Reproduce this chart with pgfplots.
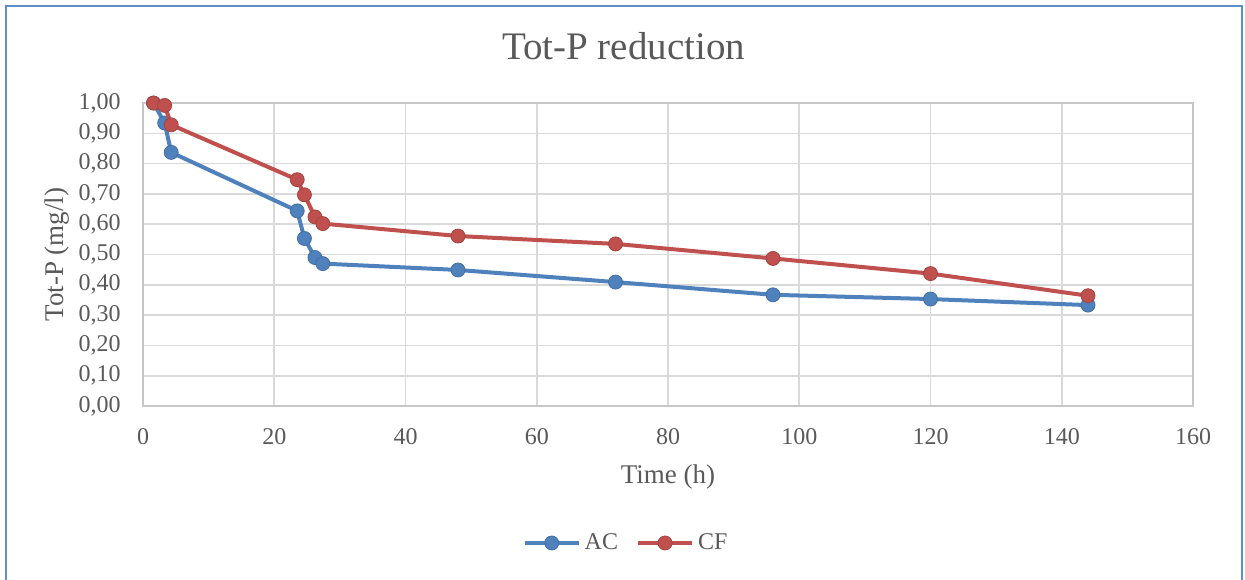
\documentclass[border=0pt]{standalone}
\usepackage{pgfplots}
\pgfplotsset{compat=1.18}
\usepackage{fontspec}
\setmainfont{Liberation Serif}
\definecolor{acblue}{HTML}{4F81BD}
\definecolor{cfred}{HTML}{C0504D}
\definecolor{txt}{HTML}{595959}
\definecolor{gridc}{HTML}{D9D9D9}
\definecolor{framec}{HTML}{5F8DC8}
\begin{document}
\begin{tikzpicture}
\useasboundingbox (0,0) rectangle (622.5pt,-289.5pt);
\draw[framec, line width=1.1pt] (2.8pt,-290pt) -- (2.8pt,-2.8pt) -- (621.1pt,-2.8pt) -- (621.1pt,-290pt);
\begin{axis}[
  at={(71.5pt,-203pt)}, anchor=south west,
  scale only axis, width=525pt, height=151.5pt,
  xmin=0, xmax=160, ymin=0, ymax=1,
  xtick distance=20, ytick distance=0.1,
  grid=major, major grid style={gridc, line width=0.8pt},
  axis line style={gridc!80!gray, line width=0.8pt},
  major tick length=0pt,
  clip mode=individual,
  tick label style={font=\fontsize{12}{14}\selectfont, text=txt, inner sep=0pt},
  /pgf/number format/assume math mode=true,
  xticklabel shift=11pt, yticklabel shift=11pt,
  yticklabel style={/pgf/number format/.cd, fixed, fixed zerofill, precision=2, use comma},
  xticklabel style={/pgf/number format/.cd, fixed, precision=0},
  xlabel={Time (h)}, ylabel={Tot-P (mg/l)},
  label style={font=\fontsize{13.5}{15}\selectfont, text=txt},
  xlabel style={at={(axis description cs:0.5,-0.2343)}, anchor=center},
  ylabel style={at={(axis description cs:-0.0819,0.5)}, anchor=center},
  title={Tot-P reduction},
  title style={at={(axis description cs:0.4578,1.147)}, anchor=center, font=\fontsize{19.5}{22}\selectfont, text=txt},
  legend style={at={(axis description cs:0.461,-0.452)}, anchor=center, draw=none, fill=none,
    legend columns=2, font=\fontsize{12}{14}\selectfont, text=txt,
    /tikz/every even column/.append style={column sep=7pt}},
  legend cell align=left,
  legend image code/.code={\draw[#1, mark repeat=2, mark phase=2] plot coordinates {(0pt,0pt) (13.5pt,0pt) (27pt,0pt)};},
]
\addplot[acblue, line width=2pt, mark=*, mark size=3.5pt, mark options={fill=acblue, draw=acblue!85!black, line width=0.4pt}]
 coordinates {(1.6,1.00) (3.3,0.934) (4.3,0.837) (23.5,0.644) (24.6,0.553) (26.2,0.490) (27.4,0.470) (48,0.449) (72,0.409) (96,0.367) (120,0.353) (144,0.333)};
\addlegendentry{AC}
\addplot[cfred, line width=2pt, mark=*, mark size=3.5pt, mark options={fill=cfred, draw=cfred!85!black, line width=0.4pt}]
 coordinates {(1.6,1.00) (3.3,0.992) (4.3,0.928) (23.5,0.747) (24.6,0.697) (26.2,0.624) (27.4,0.602) (48,0.561) (72,0.535) (96,0.487) (120,0.437) (144,0.364)};
\addlegendentry{CF}
\end{axis}
\end{tikzpicture}
\end{document}
